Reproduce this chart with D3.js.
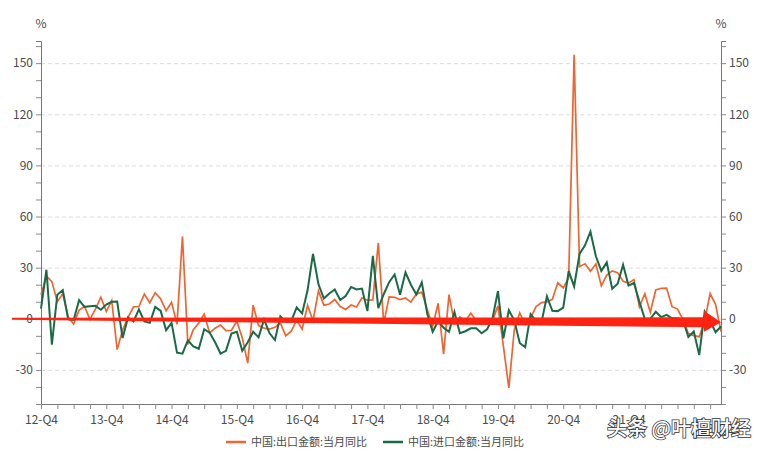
<!DOCTYPE html>
<html>
<head>
<meta charset="utf-8">
<script src="https://cdn.jsdelivr.net/npm/d3@7"></script>
<style>
  body { margin: 0; background: #fff; }
  svg { display: block; font-family: "Noto Sans CJK SC", "Noto Sans", sans-serif; }
</style>
</head>
<body>
<div id="chart"></div>
<script>
// months from 2012-12 to 2023-05
const months = d3.timeMonth.range(new Date(2012, 11, 1), new Date(2023, 5, 1));

// 中国:出口金额:当月同比 (%)
const exportYoY = [
  14.1,
  25.0, 21.8, 10.0, 14.7, 1.0, -3.1, 5.1, 7.2, -0.3, 5.6, 12.7, 4.3,
  10.6, -18.1, -6.6, 0.9, 7.0, 7.2, 14.5, 9.4, 15.3, 11.6, 4.7, 9.7,
  -3.3, 48.3, -15.0, -6.4, -2.5, 2.8, -8.3, -5.5, -3.7, -6.9, -6.8, -1.4,
  -11.2, -26.0, 8.0, -4.0, -5.5, -6.0, -5.0, -2.5, -10.0, -7.3, -0.8, -6.1,
  7.9, -1.3, 16.4, 8.0, 8.7, 11.3, 7.2, 5.5, 8.1, 6.9, 12.3, 10.9,
  11.1, 44.5, -2.7, 12.9, 12.6, 11.3, 12.2, 9.8, 14.5, 15.6, 5.4, -4.4,
  9.1, -20.7, 14.2, -2.7, 1.1, -1.3, 3.3, -1.0, -3.2, -0.9, -1.1, 7.6,
  -16.0, -40.6, -6.6, 3.5, -3.3, 0.5, 7.2, 9.5, 9.9, 11.4, 21.1, 18.1,
  24.0, 154.9, 30.6, 32.3, 27.9, 32.2, 19.3, 25.6, 28.1, 27.1, 22.0, 20.9,
  23.0, 7.0, 14.7, 3.9, 16.9, 17.9, 18.0, 7.1, 5.7, -0.3, -8.7, -9.9,
  -10.5, -1.3, 14.8, 8.5, -7.5
];

// 中国:进口金额:当月同比 (%)
const importYoY = [
  6.0,
  28.8, -15.2, 14.1, 16.8, -0.3, -0.7, 10.9, 7.0, 7.4, 7.6, 5.3, 8.3,
  10.0, 10.1, -11.3, 0.8, -1.6, 5.5, -1.6, -2.4, 7.0, 4.6, -6.7, -2.4,
  -19.9, -20.5, -12.7, -16.2, -17.6, -6.1, -8.1, -13.8, -20.4, -18.8, -8.7, -7.6,
  -18.8, -13.8, -7.6, -10.9, -0.4, -8.4, -12.5, 1.5, -1.9, -1.4, 6.7, 3.1,
  16.7, 38.1, 20.3, 11.9, 14.8, 17.2, 11.0, 13.3, 18.7, 17.2, 17.7, 4.5,
  36.9, 6.3, 14.4, 21.5, 26.0, 14.1, 27.3, 20.0, 14.3, 21.4, 3.0, -7.6,
  -1.5, -5.2, -7.6, 4.0, -8.5, -7.3, -5.6, -5.6, -8.5, -6.2, 0.3, 16.3,
  -11.5, 5.0, -0.9, -14.2, -16.7, 2.7, -1.4, -2.1, 13.2, 4.7, 4.5, 6.5,
  28.0, 19.0, 38.1, 43.1, 51.1, 36.7, 28.1, 33.1, 17.6, 20.6, 31.7, 19.5,
  21.0, 10.0, -0.1, 0.0, 4.1, 1.0, 2.3, 0.3, 0.3, -0.7, -10.6, -7.5,
  -21.3, 4.2, -1.4, -7.9, -4.5
];

const yTicks = [-30, 0, 30, 60, 90, 120, 150];
const seriesNames = ["中国:出口金额:当月同比", "中国:进口金额:当月同比"];
const colors = ["#EE6531", "#1B6A47"];
const widths = [1.7, 2];

const width = 760, height = 452;
const margin = { top: 41, right: 39, bottom: 48, left: 41 };

const svg = d3.select("#chart").append("svg")
  .attr("width", width)
  .attr("height", height);

const x = d3.scaleLinear()
  .domain([0, months.length - 1])
  .range([margin.left, width - margin.right]);

const y = d3.scaleLinear()
  .domain([-50, 163])
  .range([height - margin.bottom, margin.top]);

// dashed grid
svg.append("g")
  .selectAll("line")
  .data(yTicks)
  .join("line")
    .attr("x1", x.range()[0])
    .attr("x2", x.range()[1])
    .attr("y1", d => y(d) + 0.5)
    .attr("y2", d => y(d) + 0.5)
    .attr("stroke", "#dcdcdc")
    .attr("stroke-dasharray", "4,3");

// left / right y axes: minor ticks every 10, labels every 30
const minor = d3.range(-50, 161, 10);
function yAxis(g, side) {
  const ax = side === "left" ? d3.axisLeft(y) : d3.axisRight(y);
  g.call(ax.tickValues(minor).tickSize(5).tickFormat(d => yTicks.includes(d) ? d : ""));
  g.select(".domain").attr("stroke", "#777");
  g.selectAll(".tick line").attr("stroke", "#888");
  g.selectAll(".tick text").attr("fill", "#4a4a4a").attr("font-size", 12);
  g.attr("font-family", null);
}
svg.append("g")
  .attr("transform", `translate(${x.range()[0]},0)`)
  .call(g => yAxis(g, "left"));
svg.append("g")
  .attr("transform", `translate(${x.range()[1]},0)`)
  .call(g => yAxis(g, "right"));

// x axis: quarterly ticks, yearly Q4 labels plus end label
const quarterIdx = d3.range(0, months.length, 3);
const labelIdx = d3.range(0, 109, 12);
const xg = svg.append("g")
  .attr("transform", `translate(0,${y.range()[0]})`)
  .call(d3.axisBottom(x).tickValues(quarterIdx).tickSize(5).tickSizeOuter(0)
    .tickFormat(i => labelIdx.includes(i) ? d3.timeFormat("%y")(months[i]) + "-Q4" : ""));
xg.attr("font-family", null);
xg.select(".domain").attr("stroke", "#777");
xg.selectAll(".tick line").attr("stroke", "#888");
xg.selectAll(".tick text").attr("fill", "#4a4a4a").attr("font-size", 12).attr("dy", "1em");
xg.append("text")
  .attr("x", x(months.length - 1) - 4)
  .attr("y", 8)
  .attr("dy", "1.71em")
  .attr("text-anchor", "middle")
  .attr("fill", "#4a4a4a")
  .attr("font-size", 12)
  .text("23-Q2");

// unit labels
[x.range()[0], x.range()[1]].forEach(px => {
  svg.append("text")
    .attr("x", px)
    .attr("y", 28)
    .attr("text-anchor", "middle")
    .attr("fill", "#4a4a4a")
    .attr("font-size", 12)
    .text("%");
});

// lines
const line = d3.line().x((d, i) => x(i)).y(d => y(d));
[exportYoY, importYoY].forEach((s, k) => {
  svg.append("path")
    .datum(s)
    .attr("fill", "none")
    .attr("stroke", colors[k])
    .attr("stroke-width", widths[k])
    .attr("d", line);
});

// legend
const legend = svg.append("g").attr("transform", `translate(0,${height - 6})`);
const legendX = [226, 383];
seriesNames.forEach((name, k) => {
  legend.append("line")
    .attr("x1", legendX[k]).attr("x2", legendX[k] + 20)
    .attr("y1", -4).attr("y2", -4)
    .attr("stroke", colors[k]).attr("stroke-width", 2.5);
  legend.append("text")
    .attr("x", legendX[k] + 25)
    .attr("y", 0)
    .attr("fill", "#4a4a4a")
    .attr("font-size", 11)
    .text(name);
});

// red arrow annotation along the zero line
const x0 = x(0) - 29, xHead = x(months.length - 1) - 17, xTip = x(months.length - 1);
const y0 = y(0);
const arrow = d3.path();
arrow.moveTo(x0, y0 - 1);
arrow.lineTo(xHead, y0 - 1.5);
arrow.lineTo(xHead, y0 - 8);
arrow.lineTo(xTip, y0 + 3.5);
arrow.lineTo(xHead, y0 + 13);
arrow.lineTo(xHead, y0 + 8.5);
arrow.lineTo(x0, y0 + 1);
arrow.closePath();
svg.append("path")
  .attr("d", arrow.toString())
  .attr("fill", "#FF2312");

// watermark
svg.append("text")
  .attr("x", 607)
  .attr("y", 436)
  .attr("font-size", 20)
  .attr("font-weight", 500)
  .attr("fill", "#fff")
  .attr("stroke", "#333")
  .attr("stroke-width", 1.6)
  .attr("paint-order", "stroke")
  .text("头条 @叶檀财经");
</script>
</body>
</html>
